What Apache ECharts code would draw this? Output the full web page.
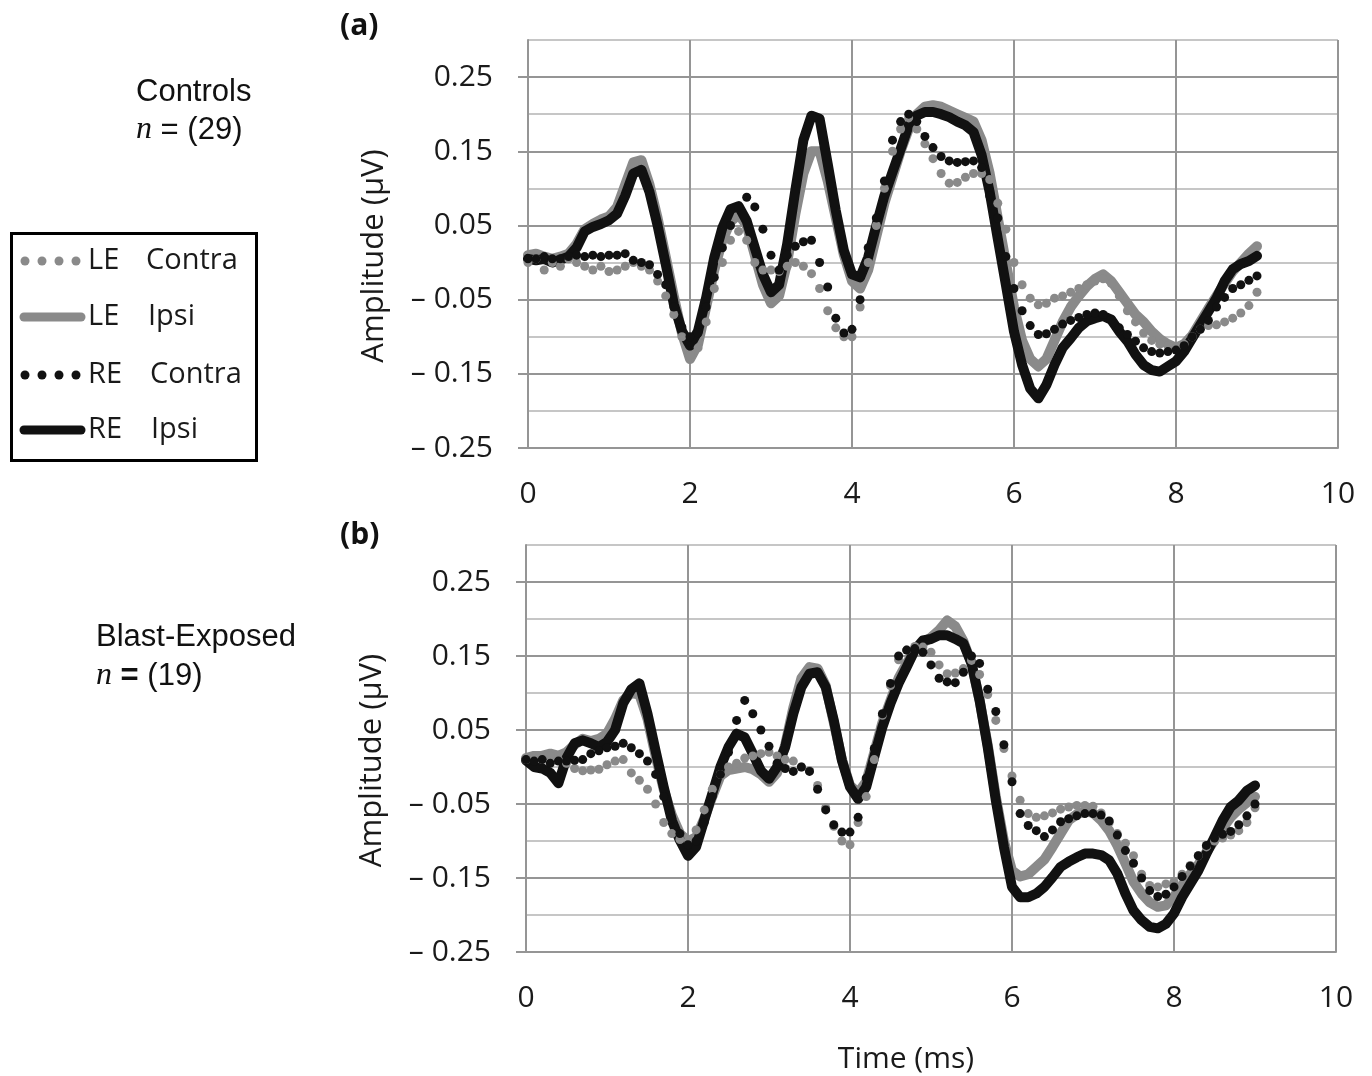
<!DOCTYPE html>
<html>
<head>
<meta charset="utf-8">
<script src="https://cdn.jsdelivr.net/npm/echarts@6/dist/echarts.min.js"></script>
<style>
  html, body { margin: 0; padding: 0; background: #fff; }
  #chart { width: 1372px; height: 1076px; }
</style>
</head>
<body>
<div id="chart"></div>
<script>
// sample times, ms (0.0 .. 9.0 every 0.1)
const time = Array.from({ length: 91 }, (_, i) => +(i * 0.1).toFixed(1));

// (a) Controls, amplitude in uV
const aLeContra = [0.0, 0.005, -0.01, 0.0, -0.005, 0.005, 0.0, -0.005, -0.01, -0.005,
  -0.012, -0.01, -0.005, 0.0, -0.005, -0.01, -0.025, -0.045, -0.07, -0.1,
  -0.125, -0.115, -0.08, -0.035, 0.0, 0.03, 0.042, 0.03, 0.0, -0.01,
  -0.01, -0.012, -0.005, 0.0, -0.005, -0.015, -0.035, -0.065, -0.088, -0.1,
  -0.1, -0.06, 0.0, 0.05, 0.1, 0.15, 0.18, 0.195, 0.18, 0.16,
  0.14, 0.12, 0.107, 0.108, 0.115, 0.12, 0.12, 0.112, 0.08, 0.045,
  0.0, -0.03, -0.048, -0.057, -0.055, -0.048, -0.045, -0.04, -0.035, -0.03,
  -0.025, -0.022, -0.028, -0.045, -0.065, -0.08, -0.095, -0.105, -0.11, -0.112,
  -0.115, -0.11, -0.1, -0.09, -0.085, -0.084, -0.08, -0.075, -0.068, -0.058, -0.04];
const aLeIpsi = [0.01, 0.012, 0.008, 0.005, 0.008, 0.012, 0.025, 0.045, 0.052, 0.058,
  0.062, 0.075, 0.105, 0.135, 0.138, 0.105, 0.06, 0.008, -0.045, -0.095,
  -0.13, -0.11, -0.06, -0.01, 0.03, 0.055, 0.065, 0.05, 0.01, -0.03,
  -0.055, -0.045, 0.0, 0.065, 0.12, 0.15, 0.15, 0.11, 0.06, 0.01,
  -0.025, -0.035, -0.01, 0.035, 0.08, 0.115, 0.15, 0.18, 0.2, 0.21,
  0.212, 0.21, 0.205, 0.2, 0.195, 0.19, 0.165, 0.12, 0.06, 0.0,
  -0.06, -0.105, -0.13, -0.14, -0.13, -0.105, -0.08, -0.06, -0.045, -0.032,
  -0.022, -0.016, -0.025, -0.04, -0.055, -0.07, -0.08, -0.093, -0.103, -0.11,
  -0.115, -0.11, -0.098, -0.08, -0.062, -0.045, -0.028, -0.012, 0.0, 0.012, 0.022];
const aReContra = [0.005, 0.005, 0.008, 0.005, 0.005, 0.008, 0.01, 0.008, 0.01, 0.008,
  0.01, 0.01, 0.012, 0.003, 0.0, -0.003, -0.016, -0.03, -0.06, -0.087,
  -0.1, -0.095, -0.06, -0.02, 0.02, 0.05, 0.075, 0.088, 0.075, 0.045,
  0.01, -0.01, 0.01, 0.022, 0.028, 0.03, 0.0, -0.033, -0.075, -0.095,
  -0.09, -0.05, 0.02, 0.06, 0.11, 0.165, 0.19, 0.2, 0.19, 0.17,
  0.155, 0.143, 0.137, 0.135, 0.136, 0.137, 0.128, 0.09, 0.06, 0.008,
  -0.035, -0.065, -0.085, -0.097, -0.096, -0.09, -0.083, -0.078, -0.074, -0.07,
  -0.068, -0.07, -0.077, -0.088, -0.097, -0.106, -0.115, -0.12, -0.122, -0.12,
  -0.118, -0.112, -0.1, -0.09, -0.078, -0.06, -0.047, -0.035, -0.03, -0.024, -0.018];
const aReIpsi = [0.005, 0.003, 0.005, 0.0, 0.004, 0.008, 0.02, 0.042, 0.048, 0.052,
  0.057, 0.066, 0.09, 0.12, 0.125, 0.095, 0.05, -0.002, -0.056, -0.092,
  -0.112, -0.092, -0.047, 0.007, 0.047, 0.072, 0.076, 0.056, 0.02, -0.016,
  -0.04, -0.03, 0.025, 0.097, 0.165, 0.198, 0.194, 0.133, 0.07, 0.016,
  -0.016, -0.02, 0.007, 0.05, 0.09, 0.122, 0.153, 0.185, 0.198, 0.203,
  0.203, 0.2, 0.196, 0.19, 0.185, 0.176, 0.145, 0.095, 0.032, -0.03,
  -0.093, -0.138, -0.17, -0.183, -0.165, -0.138, -0.115, -0.102, -0.088, -0.079,
  -0.075, -0.072, -0.077, -0.093, -0.106, -0.124, -0.138, -0.145, -0.147, -0.14,
  -0.133, -0.12, -0.102, -0.084, -0.066, -0.048, -0.025, -0.009, -0.002, 0.002, 0.009];

// (b) Blast-Exposed, amplitude in uV
const bLeContra = [0.01, 0.012, 0.01, 0.015, 0.01, 0.005, -0.002, -0.005, -0.004, -0.003,
  0.003, 0.008, 0.01, -0.008, -0.018, -0.03, -0.05, -0.075, -0.09, -0.098,
  -0.1, -0.085, -0.058, -0.03, -0.01, 0.0, 0.005, 0.012, 0.015, 0.018,
  0.02, 0.015, 0.01, 0.008, 0.0, -0.005, -0.025, -0.055, -0.08, -0.1,
  -0.105, -0.075, -0.04, 0.01, 0.07, 0.11, 0.145, 0.158, 0.163, 0.162,
  0.155, 0.138, 0.126, 0.127, 0.133, 0.144, 0.125, 0.098, 0.063, 0.025,
  -0.012, -0.045, -0.063, -0.068, -0.066, -0.062, -0.057, -0.054, -0.052, -0.052,
  -0.053, -0.062, -0.075, -0.09, -0.103, -0.12, -0.145, -0.16, -0.162, -0.158,
  -0.155, -0.145, -0.133, -0.12, -0.108, -0.1, -0.096, -0.092, -0.086, -0.075, -0.055];
const bLeIpsi = [0.012, 0.015, 0.015, 0.018, 0.015, 0.02, 0.03, 0.038, 0.035, 0.038,
  0.045, 0.065, 0.09, 0.1, 0.098, 0.065, 0.015, -0.03, -0.065, -0.09,
  -0.1, -0.095, -0.07, -0.04, -0.012, -0.004, -0.002, 0.0, -0.003, -0.01,
  -0.02, -0.008, 0.03, 0.08, 0.12, 0.135, 0.133, 0.11, 0.06, 0.01,
  -0.025, -0.035, -0.02, 0.02, 0.06, 0.09, 0.12, 0.14, 0.158, 0.168,
  0.175, 0.185, 0.198, 0.19, 0.17, 0.14, 0.09, 0.03, -0.04, -0.1,
  -0.14, -0.148, -0.145, -0.135, -0.125, -0.108, -0.09, -0.072, -0.064, -0.06,
  -0.062, -0.072, -0.086, -0.106, -0.13, -0.155, -0.171, -0.183, -0.189, -0.187,
  -0.175, -0.16, -0.145, -0.132, -0.115, -0.099, -0.083, -0.068, -0.057, -0.048, -0.04];
const bReContra = [0.01, 0.008, 0.01, 0.005, 0.008, 0.008, 0.009, 0.01, 0.018, 0.022,
  0.026, 0.028, 0.032, 0.026, 0.018, 0.008, -0.01, -0.04, -0.07, -0.09,
  -0.105, -0.1, -0.075, -0.04, -0.01, 0.02, 0.063, 0.09, 0.072, 0.05,
  0.028, 0.005, -0.002, -0.006, 0.0, -0.006, -0.03, -0.058, -0.078, -0.088,
  -0.088, -0.068, -0.015, 0.025, 0.072, 0.113, 0.15, 0.158, 0.16, 0.155,
  0.138, 0.12, 0.115, 0.114, 0.128, 0.15, 0.14, 0.105, 0.075, 0.03,
  -0.02, -0.063, -0.079, -0.086, -0.094, -0.085, -0.074, -0.07, -0.066, -0.063,
  -0.063, -0.065, -0.073, -0.092, -0.113, -0.13, -0.15, -0.167, -0.175, -0.172,
  -0.162, -0.148, -0.134, -0.12, -0.106, -0.096, -0.091, -0.087, -0.078, -0.066, -0.05];
const bReIpsi = [0.009, 0.0, -0.002, -0.008, -0.022, 0.012, 0.032, 0.036, 0.032, 0.027,
  0.034, 0.05, 0.086, 0.105, 0.113, 0.072, 0.022, -0.027, -0.072, -0.099,
  -0.12, -0.108, -0.072, -0.036, 0.0, 0.027, 0.045, 0.04, 0.018, -0.005,
  -0.016, 0.0, 0.027, 0.072, 0.108, 0.126, 0.128, 0.108, 0.063, 0.009,
  -0.027, -0.043, -0.027, 0.014, 0.054, 0.086, 0.113, 0.135, 0.158, 0.171,
  0.173, 0.178, 0.178, 0.173, 0.167, 0.14, 0.09, 0.027, -0.045, -0.108,
  -0.162, -0.176, -0.176, -0.171, -0.162, -0.149, -0.135, -0.128, -0.122, -0.117,
  -0.117, -0.119, -0.126, -0.144, -0.171, -0.194, -0.207, -0.216, -0.218, -0.212,
  -0.198, -0.176, -0.158, -0.14, -0.117, -0.095, -0.072, -0.054, -0.045, -0.032, -0.025];

const yMajor = [-0.25, -0.15, -0.05, 0.05, 0.15, 0.25];

const GRAY = '#8a8a8a';
const BLACK = '#111111';
const GRID_DARK = '#959595';
const GRID_LIGHT = '#c6c6c6';
const FONT = '"Open Sans", sans-serif';

const pairs = (vals) => vals.map((v, i) => [time[i], v]);

function fmtY(v) {
  const r = Math.round(v * 100) / 100;
  if (!yMajor.some(m => Math.abs(m - r) < 1e-6)) return '';
  return r < 0 ? '\u2013 ' + Math.abs(r).toFixed(2) : r.toFixed(2);
}

function xAxisFor(gi, withName) {
  return {
    type: 'value', gridIndex: gi, min: 0, max: 10, interval: 2,
    axisLine: { show: true, onZero: false, lineStyle: { color: GRID_DARK, width: 2 } },
    axisTick: { show: false },
    splitLine: { show: true, lineStyle: { color: GRID_DARK, width: 2 } },
    axisLabel: { margin: 31, fontSize: 30, fontFamily: FONT, color: '#1a1a1a' },
    name: withName ? 'Time (ms)' : '',
    nameLocation: 'middle', nameGap: 92,
    nameTextStyle: { fontSize: 30, fontFamily: FONT, color: '#1a1a1a', padding: [0, 50, 0, 0] }
  };
}

function yAxesFor(gi) {
  return [{
    type: 'value', gridIndex: gi, position: 'left', min: -0.25, max: 0.3, interval: 0.05,
    axisLine: { show: true, lineStyle: { color: GRID_DARK, width: 2 } },
    axisTick: { show: false },
    axisLabel: { show: false },
    splitLine: { show: true, lineStyle: { color: [GRID_DARK, GRID_LIGHT], width: 2 } },
    name: 'Amplitude (\u00b5V)', nameLocation: 'middle', nameRotate: 90, nameGap: 138,
    nameTextStyle: { fontSize: 31, fontFamily: FONT, color: '#1a1a1a', padding: [0, 24, 0, 0] }
  }, {
    type: 'value', gridIndex: gi, position: 'left', min: -0.25, max: 0.3, interval: 0.05,
    axisLine: { show: false },
    splitLine: { show: false },
    axisTick: { show: true, length: 10, customValues: yMajor, lineStyle: { color: GRID_DARK, width: 2 } },
    axisLabel: { show: true, customValues: yMajor, margin: 35, fontSize: 30, fontFamily: FONT,
      color: '#1a1a1a', formatter: fmtY }
  }];
}

function dotted(name, vals, color, gi) {
  return {
    name, type: 'line', xAxisIndex: gi, yAxisIndex: gi * 2, data: pairs(vals),
    symbol: 'circle', symbolSize: 9, showSymbol: true, showAllSymbol: true,
    itemStyle: { color }, lineStyle: { opacity: 0, width: 0 }, silent: true
  };
}
function solid(name, vals, color, gi) {
  return {
    name, type: 'line', xAxisIndex: gi, yAxisIndex: gi * 2, data: pairs(vals),
    showSymbol: false, symbol: 'none',
    lineStyle: { color, width: 10, cap: 'round', join: 'round' }, silent: true
  };
}

// hand drawn legend box
const legendRows = [
  { y: 261, eye: 'LE', kind: 'Contra', color: GRAY, dots: true, kx: 146 },
  { y: 317, eye: 'LE', kind: 'Ipsi', color: GRAY, dots: false, kx: 148 },
  { y: 375, eye: 'RE', kind: 'Contra', color: BLACK, dots: true, kx: 150 },
  { y: 430, eye: 'RE', kind: 'Ipsi', color: BLACK, dots: false, kx: 151 }
];
const legendGraphics = [{
  type: 'rect', shape: { x: 11.5, y: 233.5, width: 245, height: 227 },
  style: { fill: 'none', stroke: '#000', lineWidth: 3 }
}];
legendRows.forEach(r => {
  if (r.dots) {
    [25, 42, 59, 76].forEach(cx => legendGraphics.push({
      type: 'circle', shape: { cx, cy: r.y, r: 4.5 }, style: { fill: r.color }
    }));
  } else {
    legendGraphics.push({
      type: 'line', shape: { x1: 24, y1: r.y, x2: 81, y2: r.y },
      style: { stroke: r.color, lineWidth: 9, lineCap: 'round' }
    });
  }
  legendGraphics.push({
    type: 'text', x: 88, y: r.y,
    style: { text: r.eye, font: '29px ' + FONT, fill: '#1a1a1a', verticalAlign: 'middle' }
  });
  legendGraphics.push({
    type: 'text', x: r.kx, y: r.y,
    style: { text: r.kind, font: '29px ' + FONT, fill: '#1a1a1a', verticalAlign: 'middle' }
  });
});

const labelFont = '31px "Liberation Sans", Arial, sans-serif';
const textGraphics = [
  { type: 'text', x: 340, y: 26, style: { text: '(a)', font: 'bold 30px ' + FONT, fill: '#111', verticalAlign: 'middle' } },
  { type: 'text', x: 340, y: 535, style: { text: '(b)', font: 'bold 30px ' + FONT, fill: '#111', verticalAlign: 'middle' } },
  { type: 'text', x: 136, y: 92, style: { text: 'Controls', font: labelFont, fill: '#111', verticalAlign: 'middle' } },
  { type: 'text', x: 136, y: 130, style: {
    text: '{i|n} = (29)', font: labelFont, fill: '#111', verticalAlign: 'middle',
    rich: { i: { font: 'italic 32px "Liberation Serif", serif', fill: '#111' } } } },
  { type: 'text', x: 96, y: 637, style: { text: 'Blast-Exposed', font: labelFont, fill: '#111', verticalAlign: 'middle' } },
  { type: 'text', x: 96, y: 676, style: {
    text: '{i|n} {b|=} (19)', font: labelFont, fill: '#111', verticalAlign: 'middle',
    rich: { i: { font: 'italic 32px "Liberation Serif", serif', fill: '#111' },
            b: { font: 'bold 31px "Liberation Sans", Arial, sans-serif', fill: '#111' } } } }
];

const chart = echarts.init(document.getElementById('chart'), null, { renderer: 'canvas' });
chart.setOption({
  animation: false,
  backgroundColor: '#ffffff',
  grid: [
    { left: 528, top: 40, width: 810, height: 408 },
    { left: 526, top: 545, width: 810, height: 407 }
  ],
  xAxis: [xAxisFor(0, false), xAxisFor(1, true)],
  yAxis: [...yAxesFor(0), ...yAxesFor(1)],
  series: [
    dotted('LE Contra', aLeContra, GRAY, 0),
    solid('LE Ipsi', aLeIpsi, GRAY, 0),
    dotted('RE Contra', aReContra, BLACK, 0),
    solid('RE Ipsi', aReIpsi, BLACK, 0),
    dotted('LE Contra', bLeContra, GRAY, 1),
    solid('LE Ipsi', bLeIpsi, GRAY, 1),
    dotted('RE Contra', bReContra, BLACK, 1),
    solid('RE Ipsi', bReIpsi, BLACK, 1)
  ],
  graphic: [...legendGraphics, ...textGraphics]
});
</script>
</body>
</html>
